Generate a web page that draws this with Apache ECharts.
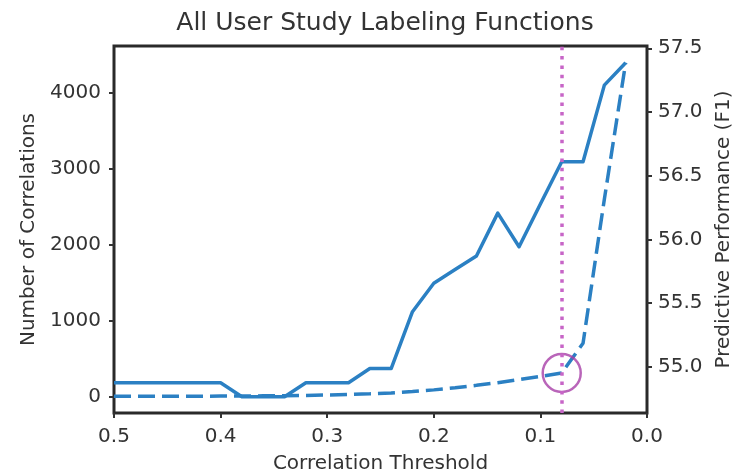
<!DOCTYPE html>
<html>
<head>
<meta charset="utf-8">
<script src="https://cdn.jsdelivr.net/npm/echarts@6/dist/echarts.min.js"></script>
<style>
  html, body { margin: 0; padding: 0; background: #ffffff; }
  #chart { width: 734px; height: 474px; }
</style>
</head>
<body>
<div id="chart"></div>
<script>
// Correlation threshold sweep (x runs from 0.5 down to 0.0)
const thresholds = [0.50, 0.48, 0.46, 0.44, 0.42, 0.40, 0.38, 0.36, 0.34, 0.32, 0.30, 0.28, 0.26,
                    0.24, 0.22, 0.20, 0.18, 0.16, 0.14, 0.12, 0.10, 0.08, 0.06, 0.04, 0.02];

// Number of correlated labeling-function pairs kept at each threshold (left axis, dashed)
const numCorrelations = [1, 1, 1, 2, 2, 3, 4, 6, 8, 12, 17, 24, 33,
                         45, 62, 85, 112, 145, 180, 222, 262, 308, 700, 2600, 4400];

// Predictive performance F1 at each threshold (right axis, solid)
const f1Scores = [54.874, 54.874, 54.874, 54.874, 54.874, 54.874, 54.765, 54.765, 54.765, 54.874, 54.874, 54.874, 54.986,
                  54.986, 55.432, 55.655, 55.763, 55.869, 56.206, 55.942, 56.277, 56.609, 56.609, 57.211, 57.386];

// Selected threshold, marked with a dotted line and a ring
const chosenThreshold = 0.08;

// Tick positions
const xTicks = [0.5, 0.4, 0.3, 0.2, 0.1, 0.0];
const countTicks = [0, 1000, 2000, 3000, 4000];
const f1Ticks = [55.0, 55.5, 56.0, 56.5, 57.0, 57.5];

const lineBlue = '#2b80c3';
const ink = '#333333';
const font = 'DejaVu Sans';

const countSeries = thresholds.map((t, i) => [t, numCorrelations[i]]);
const f1Series = thresholds.map((t, i) => [t, f1Scores[i]]);
const chosenIdx = thresholds.indexOf(chosenThreshold);

const tickStyle = { show: true, inside: false, length: 5, lineStyle: { color: ink, width: 2 } };
const labelBase = { color: ink, fontFamily: font, fontSize: 20 };
const hiddenLine = { show: false, onZero: false };

const chart = echarts.init(document.getElementById('chart'), null, { renderer: 'canvas' });
chart.setOption({
  animation: false,
  backgroundColor: '#ffffff',
  title: {
    text: 'All User Study Labeling Functions',
    left: 380,
    top: 6,
    textAlign: 'center',
    textStyle: { color: ink, fontFamily: font, fontSize: 25, fontWeight: 'normal' }
  },
  grid: {
    left: 114, right: 87, top: 46, bottom: 61,
    show: true, borderColor: '#2a2a2a', borderWidth: 3,
    containLabel: false,
    outerBoundsMode: 'none'
  },
  xAxis: {
    type: 'value',
    position: 'bottom',
    inverse: true,
    min: 0, max: 0.5,
    name: 'Correlation Threshold',
    nameLocation: 'middle',
    nameGap: 41,
    nameTextStyle: { color: ink, fontFamily: font, fontSize: 20 },
    axisLine: hiddenLine,
    splitLine: { show: false },
    axisTick: Object.assign({ customValues: xTicks }, tickStyle),
    axisLabel: Object.assign({ customValues: xTicks, margin: 14,
      formatter: v => Number(v).toFixed(1) }, labelBase)
  },
  yAxis: [
    {
      type: 'value',
      position: 'left',
      min: -220, max: 4620,
      name: 'Number of Correlations',
      nameLocation: 'middle',
      nameRotate: 90,
      nameGap: 72,
      nameTextStyle: { color: ink, fontFamily: font, fontSize: 20 },
      axisLine: hiddenLine,
      splitLine: { show: false },
      axisTick: Object.assign({ customValues: countTicks }, tickStyle),
      axisLabel: Object.assign({ customValues: countTicks, margin: 13,
        formatter: v => String(Math.round(v)) }, labelBase)
    },
    {
      type: 'value',
      position: 'right',
      min: 54.637, max: 57.518,
      name: 'Predictive Performance (F1)',
      nameLocation: 'middle',
      nameRotate: 90,
      nameGap: 65,
      nameTextStyle: { color: ink, fontFamily: font, fontSize: 20 },
      axisLine: hiddenLine,
      splitLine: { show: false },
      axisTick: Object.assign({ customValues: f1Ticks }, tickStyle),
      axisLabel: Object.assign({ customValues: f1Ticks, margin: 11,
        formatter: v => Number(v).toFixed(1) }, labelBase)
    }
  ],
  series: [
    {
      name: 'F1',
      type: 'line',
      yAxisIndex: 1,
      data: f1Series,
      showSymbol: false,
      symbol: 'none',
      lineStyle: { color: lineBlue, width: 3.5, join: 'round' },
      z: 3
    },
    {
      name: 'Correlations',
      type: 'line',
      yAxisIndex: 0,
      data: countSeries,
      showSymbol: false,
      symbol: 'none',
      lineStyle: { color: lineBlue, width: 3.5, type: [17, 7] },
      markLine: {
        silent: true,
        symbol: 'none',
        label: { show: false },
        lineStyle: { color: '#c765c7', width: 3.5, type: [3.5, 5.8] },
        data: [{ xAxis: chosenThreshold }]
      },
      z: 3
    },
    {
      name: 'Chosen',
      type: 'scatter',
      yAxisIndex: 0,
      data: [[chosenThreshold, numCorrelations[chosenIdx]]],
      symbol: 'circle',
      symbolSize: 38,
      itemStyle: { color: 'rgba(0,0,0,0)', borderColor: '#a83fa8', borderWidth: 2.5 },
      z: 4
    }
  ]
});
</script>
</body>
</html>
